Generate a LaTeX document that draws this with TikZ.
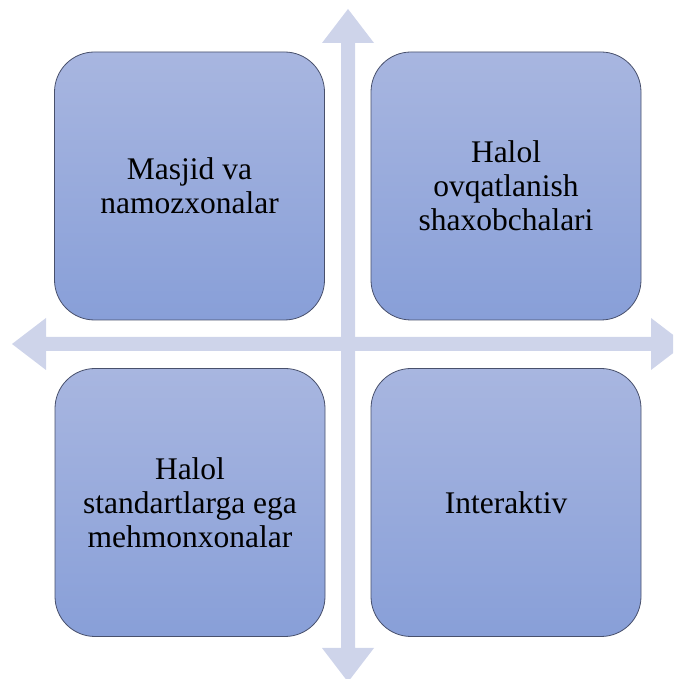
\documentclass[tikz,border=0pt]{standalone}
\usepackage{fontspec}
\setmainfont{LiberationSerif-Regular.ttf}
\usetikzlibrary{calc}
\definecolor[named]{AxisLilac}{RGB}{206,212,234}
\definecolor[named]{BoxTop}{RGB}{168,182,224}
\definecolor[named]{BoxBottom}{RGB}{136,159,216}
\definecolor[named]{BoxEdge}{RGB}{72,80,108}
\newcommand{\shaftw}{7}
\newcommand{\headw}{26}
\newcommand{\headl}{34}
\tikzset{quad/.style={ %{{{
  draw=BoxEdge,
  line width=0.8pt,
  rounded corners=40pt,
  top color=BoxTop,
  bottom color=BoxBottom,
  minimum width=270pt,
  minimum height=268pt,
  inner sep=0pt,
  align=center,
  font=\rmfamily\fontsize{31.5}{34}\selectfont
}}
%}}}

\begin{document}
\begin{tikzpicture}[x=1pt,y=1pt]
    \useasboundingbox (0,0) rectangle (673,679);
    \clip (0,0) rectangle (673,679);

    % Axes
    \begin{scope}
      \coordinate (O) at (348,335);
      \coordinate (N) at (348,670);
      \coordinate (S) at (348,-3);
      \coordinate (W) at (12,335);
      \coordinate (E) at (685,335);

      % Vertical double arrow
      \fill[AxisLilac]
        (N) -- ($(N)+(\headw,-\headl)$) -- ($(N)+(\shaftw,-\headl)$) --
        ($(S)+(\shaftw,\headl)$) -- ($(S)+(\headw,\headl)$) -- (S) --
        ($(S)+(-\headw,\headl)$) -- ($(S)+(-\shaftw,\headl)$) --
        ($(N)+(-\shaftw,-\headl)$) -- ($(N)+(-\headw,-\headl)$) -- cycle;

      % Horizontal double arrow
      \fill[AxisLilac]
        (W) -- ($(W)+(\headl,\headw)$) -- ($(W)+(\headl,\shaftw)$) --
        ($(E)+(-\headl,\shaftw)$) -- ($(E)+(-\headl,\headw)$) -- (E) --
        ($(E)+(-\headl,-\headw)$) -- ($(E)+(-\headl,-\shaftw)$) --
        ($(W)+(\headl,-\shaftw)$) -- ($(W)+(\headl,-\headw)$) -- cycle;
    \end{scope}

    % Quadrants
    \node[quad] (Q1) at (189.5,493) {Masjid va\\namozxonalar};
    \node[quad] (Q2) at (506,493) {Halol\\ovqatlanish\\shaxobchalari};
    \node[quad] (Q3) at (190,176.5) {Halol\\standartlarga ega\\mehmonxonalar};
    \node[quad] (Q4) at (506,176.5) {Interaktiv};

\end{tikzpicture}
\end{document}
